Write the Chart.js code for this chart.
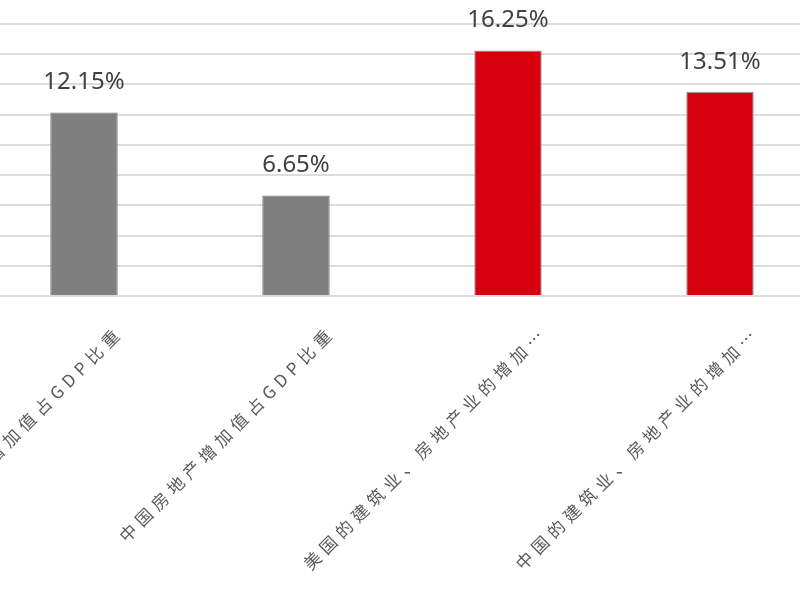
<!DOCTYPE html>
<html>
<head>
<meta charset="utf-8">
<script src="https://cdn.jsdelivr.net/npm/chart.js@4"></script>
<style>
  html, body { margin: 0; padding: 0; background: #ffffff; overflow: hidden; }
  #wrap { position: absolute; left: -22px; top: 0; width: 848px; height: 600px; }
</style>
</head>
<body>
<div id="wrap"><canvas id="c" width="848" height="600"></canvas></div>
<script>
// Categories and values (percent of GDP)
const categories = [
  '美国房地产增加值占GDP比重',
  '中国房地产增加值占GDP比重',
  '美国的建筑业、房地产业的增加…',
  '中国的建筑业、房地产业的增加…'
];
const values = [12.15, 6.65, 16.25, 13.51];
const barColors = ['#7F7F7F', '#7F7F7F', '#D7000F', '#D7000F'];
const barBorders = ['#777777', '#777777', '#8C9AA3', '#8C9AA3'];
const yTicks = { min: 0, max: 18, step: 2 };

// Wide letter spacing for the slanted category names, value labels above bars
const valueLabels = {
  id: 'valueLabels',
  beforeDraw(chart) {
    chart.ctx.letterSpacing = '5.4px';
  },
  beforeDatasetsDraw(chart) {
    chart.ctx.letterSpacing = '0px';
  },
  afterDatasetsDraw(chart) {
    const ctx = chart.ctx;
    const meta = chart.getDatasetMeta(0);
    ctx.save();
    ctx.letterSpacing = '0px';
    ctx.font = '24px "Noto Sans"';
    ctx.fillStyle = '#404040';
    ctx.textAlign = 'center';
    ctx.textBaseline = 'middle';
    meta.data.forEach((bar, i) => {
      ctx.fillText(values[i].toFixed(2) + '%', bar.x, bar.y - 30);
    });
    ctx.restore();
  }
};

new Chart(document.getElementById('c'), {
  type: 'bar',
  data: {
    labels: categories,
    datasets: [{
      data: values,
      backgroundColor: barColors,
      borderColor: barBorders,
      borderWidth: 1,
      categoryPercentage: 1,
      barPercentage: 0.318
    }]
  },
  options: {
    responsive: false,
    animation: false,
    layout: { padding: { top: 24, left: 0, right: 0, bottom: 0 } },
    plugins: { legend: { display: false }, tooltip: { enabled: false } },
    scales: {
      x: {
        grid: { display: false, drawTicks: false },
        border: { display: false },
        ticks: {
          autoSkip: false,
          minRotation: 45,
          maxRotation: 45,
          padding: 26,
          labelOffset: 36,
          color: '#595959',
          font: { family: '"Noto Sans CJK SC"', size: 17 }
        },
        afterFit(scale) {
          scale.height = 304;
          scale.paddingLeft = 0;
          scale.paddingRight = 0;
        }
      },
      y: {
        min: yTicks.min,
        max: yTicks.max,
        ticks: { display: false, stepSize: yTicks.step },
        grid: { color: '#DCDCDC', lineWidth: 2, drawTicks: false },
        border: { display: false },
        afterFit(scale) { scale.width = 0; }
      }
    }
  },
  plugins: [valueLabels]
});
</script>
</body>
</html>
